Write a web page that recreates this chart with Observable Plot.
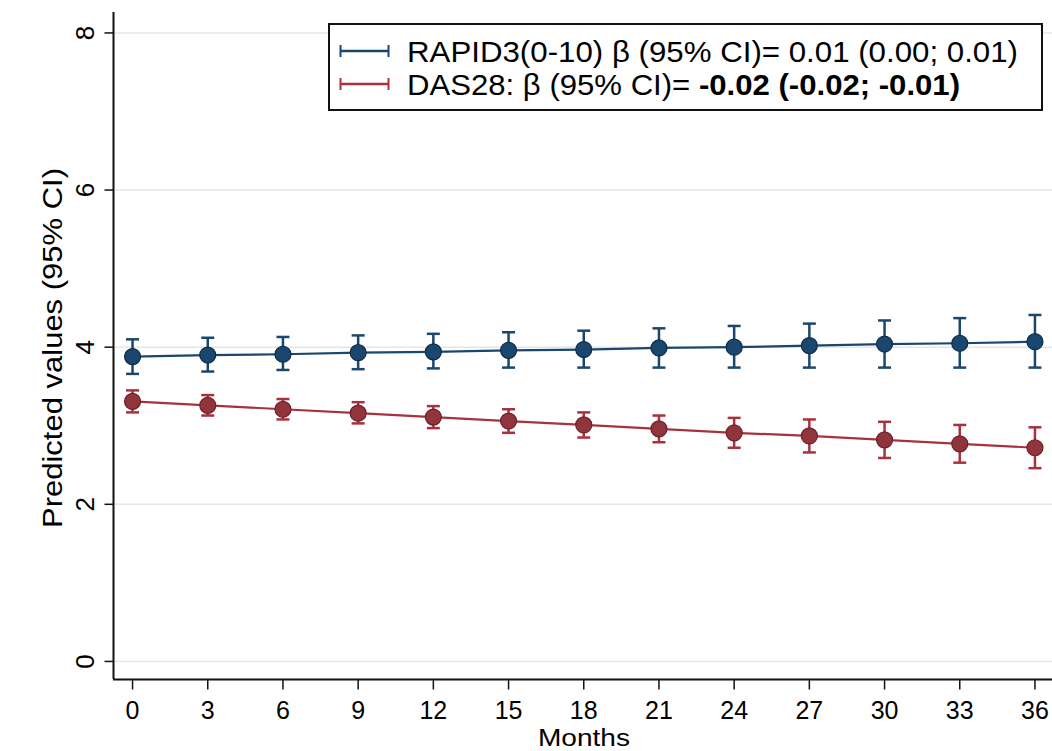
<!DOCTYPE html>
<html>
<head>
<meta charset="utf-8">
<script src="https://cdn.jsdelivr.net/npm/d3@7"></script>
<script src="https://cdn.jsdelivr.net/npm/@observablehq/plot@0.6"></script>
<style>
  html, body { margin: 0; padding: 0; background: #fff; }
  #wrap { position: relative; width: 1052px; height: 751px; }
</style>
</head>
<body>
<div id="wrap"></div>
<script>
const months = [0, 3, 6, 9, 12, 15, 18, 21, 24, 27, 30, 33, 36];
const rapidEst = [3.88, 3.90, 3.91, 3.93, 3.94, 3.96, 3.97, 3.99, 4.00, 4.02, 4.04, 4.05, 4.07];
const rapidLo  = [3.66, 3.69, 3.71, 3.72, 3.73, 3.74, 3.74, 3.74, 3.74, 3.74, 3.74, 3.74, 3.74];
const rapidHi  = [4.10, 4.12, 4.13, 4.15, 4.17, 4.19, 4.21, 4.24, 4.27, 4.30, 4.34, 4.37, 4.41];
const dasEst = [3.31, 3.26, 3.21, 3.16, 3.11, 3.06, 3.01, 2.96, 2.91, 2.87, 2.82, 2.77, 2.72];
const dasLo  = [3.17, 3.13, 3.08, 3.03, 2.97, 2.91, 2.85, 2.79, 2.72, 2.66, 2.59, 2.53, 2.46];
const dasHi  = [3.45, 3.39, 3.34, 3.30, 3.25, 3.21, 3.17, 3.13, 3.10, 3.08, 3.05, 3.01, 2.98];
const yTicks = [0, 2, 4, 6, 8];
const seriesNames = ["RAPID3", "DAS28"];
const legendLabels = {
  RAPID3: [["RAPID3(0-10) β (95% CI)= 0.01 (0.00; 0.01)", false]],
  DAS28: [["DAS28: β (95% CI)= ", false], ["-0.02 (-0.02; -0.01)", true]]
};
const xTitle = "Months";
const yTitle = "Predicted values (95% CI)";

const colors = { RAPID3: "#1a476f", DAS28: "#90353b" };
const barColors = { RAPID3: "#1a476f", DAS28: "#a8323c" };
const edgeColors = { RAPID3: "#0e2c48", DAS28: "#6e2128" };
const FONT = "'Liberation Sans', Arial, sans-serif";

const data = [];
months.forEach((m, i) => {
  data.push({ series: "RAPID3", month: m, est: rapidEst[i], lo: rapidLo[i], hi: rapidHi[i] });
  data.push({ series: "DAS28", month: m, est: dasEst[i], lo: dasLo[i], hi: dasHi[i] });
});

const xDomain = [-0.76, 36.7];
const yDomain = [-0.23, 8.26];

const capSymbol = { draw(ctx) { ctx.moveTo(-6.5, 0); ctx.lineTo(6.5, 0); } };
const yTickSymbol = { draw(ctx) { ctx.moveTo(-9, 0); ctx.lineTo(0, 0); } };
const xTickSymbol = { draw(ctx) { ctx.moveTo(0, 0); ctx.lineTo(0, 10); } };

const marks = [
  Plot.gridY(yTicks, { stroke: "#e6e6e6", strokeOpacity: 1, strokeWidth: 1.5 }),
];
for (const s of seriesNames) {
  const d = data.filter(r => r.series === s);
  marks.push(
    Plot.ruleX(d, { x: "month", y1: "lo", y2: "hi", stroke: barColors[s], strokeWidth: 2.5 }),
    Plot.dot(d, { x: "month", y: "lo", symbol: capSymbol, r: 5, stroke: barColors[s], strokeWidth: 2.5 }),
    Plot.dot(d, { x: "month", y: "hi", symbol: capSymbol, r: 5, stroke: barColors[s], strokeWidth: 2.5 }),
    Plot.line(d, { x: "month", y: "est", stroke: s === "RAPID3" ? colors[s] : barColors[s], strokeWidth: 2.2 }),
    Plot.dot(d, { x: "month", y: "est", r: 8, fill: colors[s], stroke: edgeColors[s], strokeWidth: 1.2 })
  );
}
marks.push(
  Plot.ruleX([xDomain[0]], { stroke: "#111", strokeWidth: 2 }),
  Plot.ruleY([yDomain[0]], { stroke: "#111", strokeWidth: 2 }),
  Plot.dot(yTicks, { x: () => xDomain[0], y: d => d, symbol: yTickSymbol, r: 5, stroke: "#111", strokeWidth: 1.5 }),
  Plot.dot(months, { x: d => d, y: () => yDomain[0], symbol: xTickSymbol, r: 5, stroke: "#111", strokeWidth: 1.5 }),
  Plot.text(yTicks, { x: () => xDomain[0], y: d => d, text: d => String(d), dx: -28, rotate: -90, fontSize: 26, fill: "#000" }),
  Plot.text(months, { x: d => d, y: () => yDomain[0], text: d => String(d), dy: 31, fontSize: 25, fill: "#000" })
);

const chart = Plot.plot({
  width: 1052,
  height: 751,
  marginLeft: 113,
  marginRight: 0,
  marginTop: 12,
  marginBottom: 72,
  style: { fontFamily: FONT, color: "#000", background: "#fff" },
  x: { domain: xDomain, axis: null },
  y: { domain: yDomain, axis: null },
  marks
});

document.getElementById("wrap").appendChild(chart);

const svg = d3.select(chart);
svg.append("text")
  .attr("x", 584).attr("y", 746)
  .attr("text-anchor", "middle")
  .style("font-size", "23px").attr("font-family", FONT)
  .attr("textLength", 92).attr("lengthAdjust", "spacingAndGlyphs")
  .attr("fill", "#000")
  .text(xTitle);
svg.append("text")
  .attr("transform", "translate(62,348) rotate(-90)")
  .attr("text-anchor", "middle")
  .style("font-size", "27px").attr("font-family", FONT)
  .attr("textLength", 360).attr("lengthAdjust", "spacingAndGlyphs")
  .attr("fill", "#000")
  .text(yTitle);

// legend
const lg = svg.append("g").attr("text-anchor", "start");
lg.append("rect").attr("x", 329).attr("y", 24).attr("width", 713).attr("height", 86)
  .attr("fill", "#fff").attr("stroke", "#111").attr("stroke-width", 2);
const rowY = { RAPID3: 51, DAS28: 84 };
const rowLen = { RAPID3: 611, DAS28: 553 };
for (const s of seriesNames) {
  const y = rowY[s], c = barColors[s];
  lg.append("line").attr("x1", 340).attr("x2", 389).attr("y1", y).attr("y2", y).attr("stroke", c).attr("stroke-width", 2.5);
  lg.append("line").attr("x1", 340.5).attr("x2", 340.5).attr("y1", y - 6).attr("y2", y + 6).attr("stroke", c).attr("stroke-width", 2);
  lg.append("line").attr("x1", 388.5).attr("x2", 388.5).attr("y1", y - 6).attr("y2", y + 6).attr("stroke", c).attr("stroke-width", 2);
  const t = lg.append("text").attr("x", 407).attr("y", y + 11)
    .attr("text-anchor", "start")
    .style("font-size", "30px").attr("font-family", FONT).attr("fill", "#000")
    .attr("textLength", rowLen[s]).attr("lengthAdjust", "spacingAndGlyphs");
  for (const [str, bold] of legendLabels[s]) {
    t.append("tspan").attr("font-weight", bold ? "bold" : "normal").text(str);
  }
}
</script>
</body>
</html>
